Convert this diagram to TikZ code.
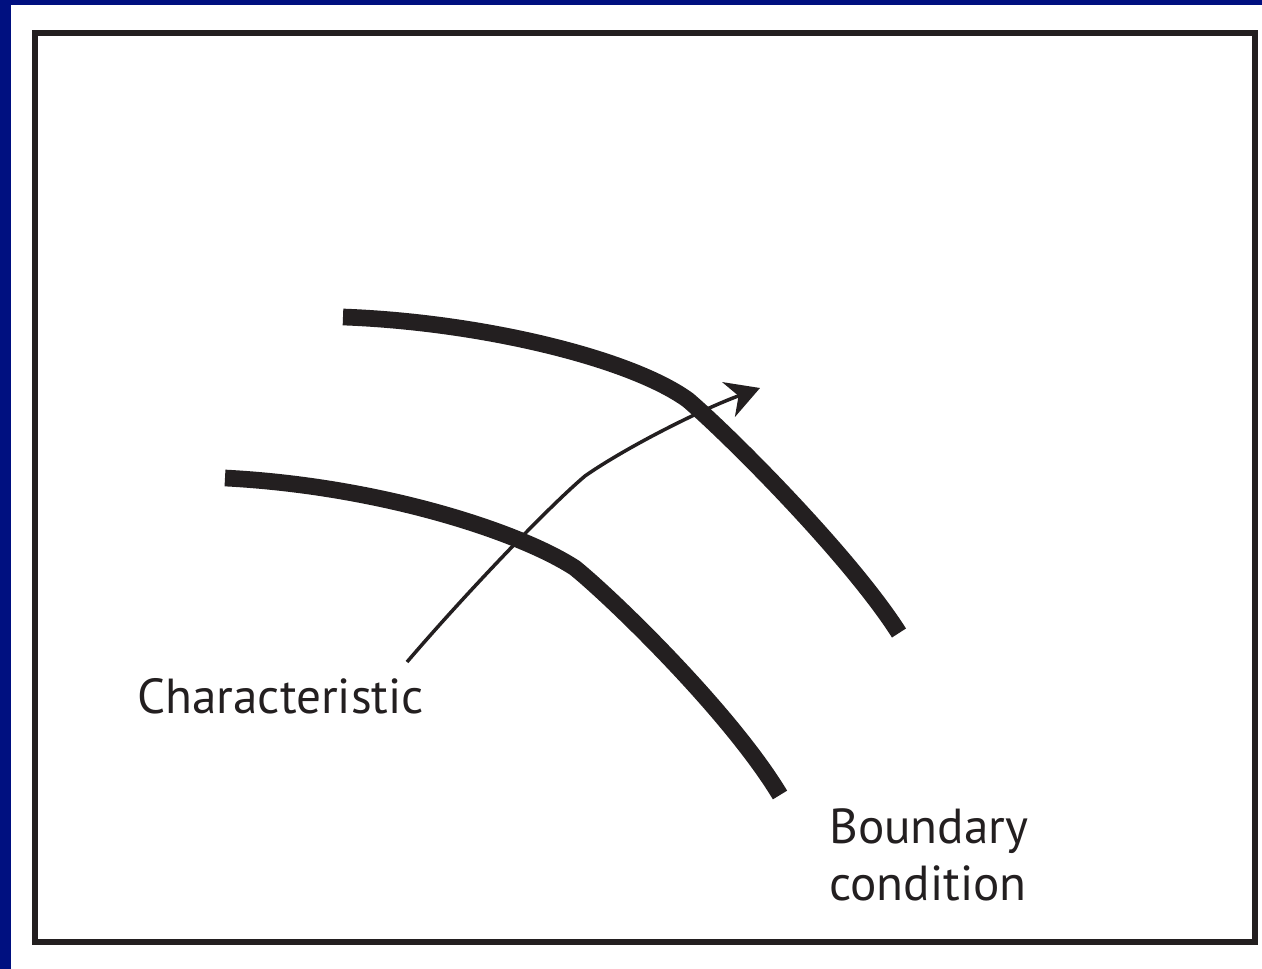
\documentclass[tikz,border=0pt]{standalone}
\usepackage{fontspec}
\setmainfont{PT Sans}
\usepackage{tikz}
\usetikzlibrary{arrows.meta, positioning}
\usepackage{xcolor}
\definecolor{slideblue}{RGB}{0,16,128}
\definecolor{inkblack}{RGB}{35,31,32}

\begin{document}
\begin{tikzpicture}[x=0.02cm, y=-0.02cm,
    front/.style={line width=9.5pt, inkblack, line cap=butt, line join=round},
    charline/.style={line width=2pt, inkblack, -{Stealth[length=19pt, width=21pt, inset=6pt]}},
    lbl/.style={inner sep=0pt, anchor=base west, font=\fontsize{28}{31}\selectfont, text=inkblack}]
      \useasboundingbox (0,0) rectangle (1262,969);
      % slide background and frame
      \fill[white] (0,0) rectangle (1262,969);
      \fill[slideblue] (0,0) rectangle (11,969);
      \fill[slideblue] (0,0) rectangle (1262,5);
      \draw[inkblack, line width=3.4pt] (35,33) rectangle (1255,942);

      % boundary conditions at two times
      \coordinate (lowstart) at (225,478);
      \coordinate (lowbend) at (575,568);
      \coordinate (lowend) at (780,795);
      \coordinate (upstart) at (343,317);
      \coordinate (upbend) at (688,400);
      \coordinate (upend) at (899,633);
      \draw[front] (lowstart) .. controls (380,486) and (520,532) .. (lowbend)
                               .. controls (612,598) and (730,712) .. (lowend);
      \draw[front] (upstart) .. controls (480,322) and (630,358) .. (upbend)
                              .. controls (730,436) and (850,556) .. (upend);

      % characteristic
      \coordinate (charstart) at (407,662);
      \coordinate (charbend) at (585,476);
      \coordinate (chartip) at (760,388);
      \draw[charline] (charstart) .. controls (460,600) and (545,510) .. (charbend)
                                   .. controls (625,448) and (700,410) .. (chartip);

      % labels
      \node[lbl] (charlabel) at (137,713) {Characteristic};
      \node[lbl] (bclabel) at (829,843) {Boundary};
      \node[lbl, below=32.5pt of bclabel.base west, anchor=base west] (bclabel2) {condition};
    \end{tikzpicture}
\end{document}
